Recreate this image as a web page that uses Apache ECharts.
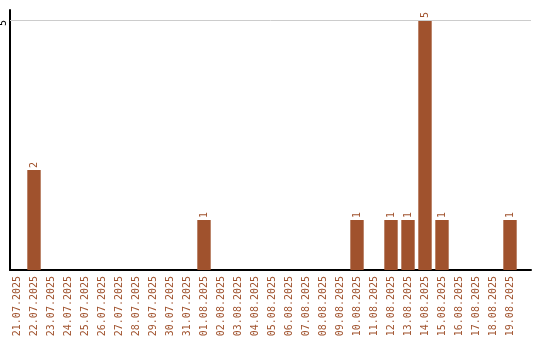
<!DOCTYPE html>
<html>
<head>
<meta charset="utf-8">
<script src="https://cdn.jsdelivr.net/npm/echarts@6/dist/echarts.min.js"></script>
<style>html,body{margin:0;padding:0;background:#fff}#c{width:540px;height:340px}</style>
</head>
<body>
<div id="c"></div>
<script>
var categories = ["21.07.2025","22.07.2025","23.07.2025","24.07.2025","25.07.2025","26.07.2025","27.07.2025","28.07.2025","29.07.2025","30.07.2025","31.07.2025","01.08.2025","02.08.2025","03.08.2025","04.08.2025","05.08.2025","06.08.2025","07.08.2025","08.08.2025","09.08.2025","10.08.2025","11.08.2025","12.08.2025","13.08.2025","14.08.2025","15.08.2025","16.08.2025","17.08.2025","18.08.2025","19.08.2025"];
var counts = [0,2,0,0,0,0,0,0,0,0,0,1,0,0,0,0,0,0,0,0,1,0,1,1,5,1,0,0,0,1];
var yTicks = [5];

var BROWN = '#A0522D';
var FONT = 'DejaVu Sans Mono';
var idx = categories.map(function(_, i){ return i; });
var chart = echarts.init(document.getElementById('c'), null, {renderer:'canvas'});
chart.setOption({
  animation: false,
  backgroundColor: '#fff',
  grid: {left: 10, right: 9, top: 10, bottom: 70, outerBoundsMode: 'none'},
  xAxis: {
    type: 'value',
    min: -7/17, max: 514/17,
    splitLine: {show: false},
    axisLine: {show: true, onZero: false, lineStyle: {color: '#000', width: 2}},
    axisTick: {show: false},
    axisLabel: {
      customValues: idx,
      rotate: 90, margin: 6,
      color: BROWN, fontFamily: FONT, fontSize: 10,
      formatter: function(v){ return categories[Math.round(v)] || ''; }
    }
  },
  yAxis: {
    type: 'value', min: 0, max: 5.2,
    splitLine: {show: false},
    axisLine: {show: true, onZero: false, lineStyle: {color: '#000', width: 2}},
    axisTick: {show: false},
    axisLabel: {customValues: yTicks, rotate: 90, margin: 2, align: 'right', verticalAlign: 'bottom', color: '#000', fontFamily: FONT, fontSize: 10}
  },
  series: [{
    type: 'bar',
    barWidth: 13.4,
    itemStyle: {color: BROWN},
    data: idx.map(function(i){ return [i, counts[i]]; }),
    label: {
      show: true, position: 'top', rotate: 90, distance: 2,
      align: 'left', verticalAlign: 'middle',
      color: BROWN, fontFamily: FONT, fontSize: 10,
      formatter: function(p){ return p.value[1] ? String(p.value[1]) : ''; }
    },
    markLine: {
      silent: true, symbol: 'none', label: {show: false},
      lineStyle: {color: '#cccccc', width: 1, type: 'solid'},
      data: yTicks.map(function(t){ return {yAxis: t}; })
    }
  }]
});
</script>
</body>
</html>
